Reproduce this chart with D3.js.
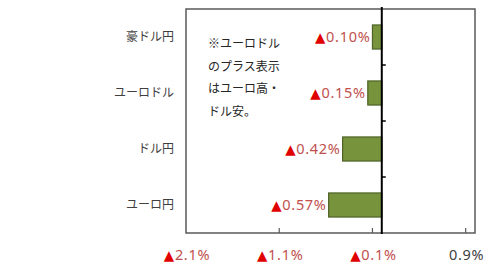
<!DOCTYPE html>
<html>
<head>
<meta charset="utf-8">
<script src="https://cdn.jsdelivr.net/npm/d3@7"></script>
<style>
  body { margin: 0; background: #fff; }
  svg { display: block; }
</style>
</head>
<body>
<svg id="chart" width="500" height="271"></svg>
<script>
// values in %, negative shown with ▲
var categories = ["豪ドル円", "ユーロドル", "ドル円", "ユーロ円"];
var values = [-0.10, -0.15, -0.42, -0.57];
var tickValues = [-2.1, -1.1, -0.1, 0.9];
var noteLines = ["※ユーロドル", "のプラス表示", "はユーロ高・", "ドル安。"];

var jpFont = "'Noto Sans CJK JP', 'Noto Sans', sans-serif";
var numFont = "'Noto Sans', 'DejaVu Sans', sans-serif";

var plot = {left: 186, right: 475, top: 9, bottom: 233};

var svg = d3.select("#chart");

var x = d3.scaleLinear().domain([-2.1, 1.0]).range([plot.left, plot.right]);
var y = d3.scaleBand().domain(categories).range([plot.top, plot.bottom]).paddingInner(0.57).paddingOuter(0.285);

function addLabel(sel, v, digits) {
    if (v < 0) {
        sel.append("tspan").attr("fill", "#e00000").style("font-size", "13.5px").text("▲");
        sel.append("tspan").attr("fill", "#c0504d").text(Math.abs(v).toFixed(digits) + "%");
    } else {
        sel.append("tspan").attr("fill", "#404040").text(v.toFixed(digits) + "%");
    }
}

// plot border
svg.append("rect")
    .attr("x", plot.left)
    .attr("y", plot.top)
    .attr("width", plot.right - plot.left)
    .attr("height", plot.bottom - plot.top)
    .style("fill", "none")
    .style("stroke", "#595959")
    .style("stroke-width", 1.5);

// bottom tick marks (pointing up)
svg.selectAll(".xtick").data(tickValues.slice(1)).enter().append("line")
    .classed("xtick", true)
    .attr("x1", function (d) { return x(d); })
    .attr("x2", function (d) { return x(d); })
    .attr("y1", plot.bottom)
    .attr("y2", plot.bottom - 5)
    .style("stroke", "#595959")
    .style("stroke-width", 1.2);

// bars
svg.selectAll(".bar").data(values).enter().append("rect")
    .classed("bar", true)
    .attr("x", function (d) { return x(Math.min(0, d)); })
    .attr("y", function (d, i) { return y(categories[i]); })
    .attr("width", function (d) { return Math.abs(x(d) - x(0)); })
    .attr("height", y.bandwidth())
    .style("fill", "#77933c")
    .style("stroke", "#4f6228")
    .style("stroke-width", 1.2);

// zero axis line
svg.append("line")
    .attr("x1", x(0)).attr("x2", x(0))
    .attr("y1", 7).attr("y2", plot.bottom + 1)
    .style("stroke", "#000")
    .style("stroke-width", 2);

// small ticks on zero axis at category boundaries
var step = (plot.bottom - plot.top) / categories.length;
svg.selectAll(".ytick").data(d3.range(1, categories.length)).enter().append("line")
    .classed("ytick", true)
    .attr("x1", x(0))
    .attr("x2", x(0) + 4)
    .attr("y1", function (d) { return plot.top + step * d; })
    .attr("y2", function (d) { return plot.top + step * d; })
    .style("stroke", "#000")
    .style("stroke-width", 1.5);

// category labels
svg.selectAll(".cat").data(categories).enter().append("text")
    .classed("cat", true)
    .attr("x", 174)
    .attr("y", function (d) { return y(d) + y.bandwidth() / 2; })
    .attr("dy", ".35em")
    .attr("text-anchor", "end")
    .style("font", "12px " + jpFont)
    .style("fill", "#404040")
    .text(function (d) { return d; });

// data labels (letter-spacing adds trailing space, so shift right a bit)
svg.selectAll(".val").data(values).enter().append("text")
    .classed("val", true)
    .attr("x", function (d) { return x(Math.min(0, d)) - 2; })
    .attr("y", function (d, i) { return y(categories[i]) + y.bandwidth() / 2; })
    .attr("dy", ".35em")
    .attr("text-anchor", "end")
    .style("font", "14.5px " + numFont)
    .style("letter-spacing", "0.7px")
    .each(function (d) { addLabel(d3.select(this), d, 2); });

// x tick labels
svg.selectAll(".xlab").data(tickValues).enter().append("text")
    .classed("xlab", true)
    .attr("x", function (d) { return x(d) + 1; })
    .attr("y", 255)
    .attr("dy", ".35em")
    .attr("text-anchor", "middle")
    .style("font", "14.5px " + numFont)
    .style("letter-spacing", "0.7px")
    .each(function (d) { addLabel(d3.select(this), d, 1); });

// note text
svg.selectAll(".note").data(noteLines).enter().append("text")
    .classed("note", true)
    .attr("x", 208)
    .attr("y", function (d, i) { return 44 + i * 22.5; })
    .attr("dy", ".35em")
    .style("font", "12px " + jpFont)
    .style("fill", "#262626")
    .text(function (d) { return d; });
</script>
</body>
</html>
